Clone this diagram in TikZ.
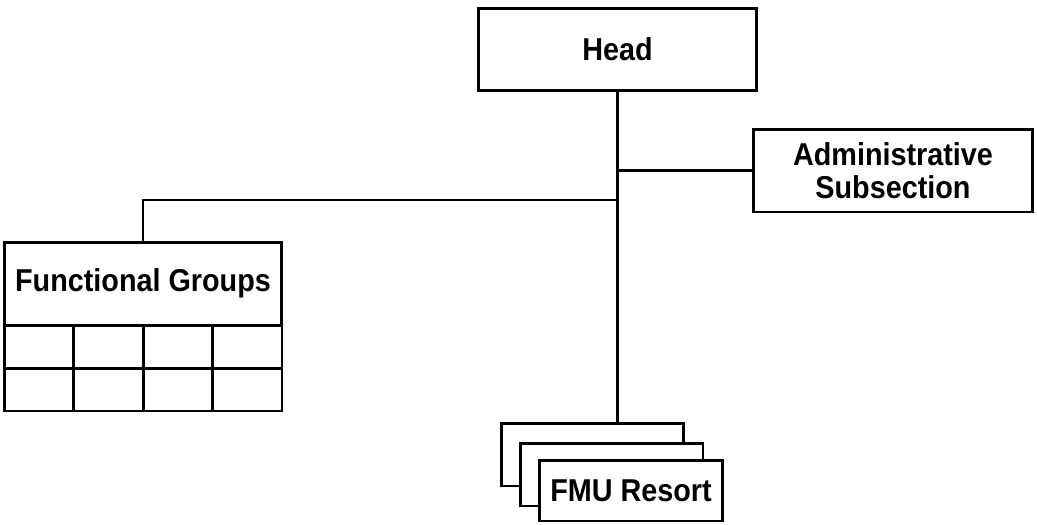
\documentclass[tikz,border=0pt]{standalone}
\usepackage{fontspec}
\setmainfont{Liberation Sans}[FakeStretch=0.91]
\usepackage{tikz}
\usetikzlibrary{positioning, calc}

\tikzset{
  unitbox/.style={draw, fill=white, rectangle, inner sep=0pt,
    minimum width=5.58cm, minimum height=1.66cm, align=center,
    font=\bfseries\fontsize{18}{20}\selectfont},
  cellbox/.style={draw, fill=white, rectangle, inner sep=0pt,
    minimum width=1.39cm, minimum height=0.86cm},
  link/.style={draw}
}

\begin{document}
\begin{tikzpicture}[x=0.02cm, y=-0.02cm, line width=1.7pt]
  \useasboundingbox (0,0) rectangle (1037,524);

  % top of the chart
  \node[unitbox] (head) at (617.5,49.5) {Head};
  \node[unitbox, minimum width=5.6cm] (admin) at (893,170.5) {Administrative\\[-1pt]Subsection};

  % functional groups with their cells
  \node[unitbox, minimum width=5.56cm] (func) at (143,283.5) {Functional Groups};
  \foreach \r in {1,2} {
    \foreach \c in {1,...,4} {
      \node[cellbox] (g\r\c) at ({4+69.5*(\c-0.5)}, {325+43*(\r-0.5)}) {};
    }
  }

  % stacked resort boxes
  \node[unitbox, minimum width=3.66cm, minimum height=1.26cm] (fmuback) at (592.5,454.5) {};
  \node[unitbox, minimum width=3.66cm, minimum height=1.26cm] (fmumid) at (611.5,474.5) {};
  \node[unitbox, minimum width=3.66cm, minimum height=1.22cm] (fmu) at (631,490.5) {FMU Resort};

  % connectors
  \coordinate (fork) at (head.south |- 0,200);
  \draw[link] (head.south) -- (head.south |- fmuback.north);
  \draw[link] (head.south |- admin.west) -- (admin.west);
  \draw[link] (func.north) |- (fork);
\end{tikzpicture}
\end{document}
